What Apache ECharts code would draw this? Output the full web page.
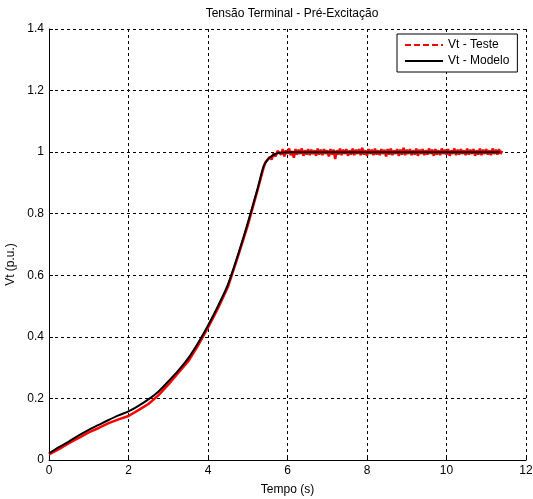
<!DOCTYPE html>
<html>
<head>
<meta charset="utf-8">
<script src="https://cdn.jsdelivr.net/npm/echarts@6/dist/echarts.min.js"></script>
<style>
  html, body { margin: 0; padding: 0; background: #fff; }
  #chart { width: 533px; height: 499px; }
</style>
</head>
<body>
<div id="chart"></div>
<script>
// Terminal voltage during pre-excitation: measured test vs. model response

const titleText = 'Tensão Terminal - Pré-Excitação';
const xName = 'Tempo (s)';
const yName = 'Vt (p.u.)';
const seriesNames = ['Vt - Teste', 'Vt - Modelo'];

const xTicks = [0, 2, 4, 6, 8, 10, 12];
const yTicks = [0, 0.2, 0.4, 0.6, 0.8, 1, 1.2, 1.4];

// Model response (s, p.u.)
const modelTime = [0, 0.25, 0.5, 0.75, 1, 1.25, 1.5, 1.75, 2, 2.25, 2.5, 2.75, 3, 3.25, 3.5, 3.75,
  4, 4.25, 4.5, 4.75, 5, 5.25, 5.4, 5.5, 5.6, 5.7, 5.8, 6, 6.5, 7, 8, 9, 10, 11, 11.35];
const modelVolt = [0.022, 0.042, 0.060, 0.080, 0.098, 0.114, 0.130, 0.145, 0.158, 0.176, 0.197, 0.222,
  0.255, 0.290, 0.330, 0.380, 0.437, 0.500, 0.570, 0.665, 0.770, 0.883, 0.955, 0.975, 0.987, 0.994,
  0.998, 1.000, 1.000, 1.000, 1.000, 1.000, 1.000, 1.000, 1.000];

// Measured response, rising part (s, p.u.)
const testRiseTime = [0, 0.25, 0.5, 0.75, 1, 1.25, 1.5, 1.75, 2, 2.25, 2.5, 2.75, 3, 3.25, 3.5, 3.75,
  4, 4.25, 4.5, 4.75, 5, 5.25, 5.4, 5.45, 5.5, 5.55, 5.6, 5.65, 5.7, 5.75];
const testRiseVolt = [0.018, 0.035, 0.055, 0.072, 0.090, 0.104, 0.120, 0.132, 0.143, 0.162, 0.182, 0.210,
  0.245, 0.283, 0.320, 0.372, 0.430, 0.492, 0.562, 0.660, 0.762, 0.878, 0.950, 0.968, 0.962, 0.984,
  0.976, 0.996, 0.986, 1.004];

// Measured response, steady part: samples every 0.04 s starting at 5.8 s
const testFlatStart = 5.8;
const testFlatStep = 0.04;
const testFlatVolt = [
  1.008, 0.992, 1.010, 0.986, 1.006, 0.994, 1.012, 0.990, 1.004, 0.982,
  1.010, 0.992, 1.008, 0.994, 1.012, 0.988, 1.006, 0.992, 1.010, 0.990,
  1.008, 0.994, 1.006, 0.988, 1.012, 0.992, 1.008, 0.990, 1.010, 0.994,
  1.006, 0.986, 1.010, 0.992, 1.008, 0.978, 1.006, 0.992, 1.012, 0.990,
  1.008, 0.994, 1.010, 0.988, 1.006, 0.992, 1.012, 0.990, 1.008, 0.994,
  1.010, 0.990, 1.014, 0.992, 1.006, 0.988, 1.010, 0.994, 1.008, 0.990,
  1.012, 0.992, 1.006, 0.990, 1.010, 0.994, 1.008, 0.986, 1.010, 0.992,
  1.012, 0.990, 1.006, 0.994, 1.010, 0.988, 1.008, 0.992, 1.014, 0.990,
  1.008, 0.994, 1.010, 0.990, 1.006, 0.992, 1.012, 0.988, 1.008, 0.994,
  1.010, 0.990, 1.006, 0.992, 1.012, 0.994, 1.008, 0.988, 1.010, 0.992,
  1.006, 0.990, 1.012, 0.994, 1.008, 0.992, 1.010, 0.988, 1.006, 0.994,
  1.012, 0.990, 1.008, 0.992, 1.010, 0.994, 1.006, 0.990, 1.012, 0.992,
  1.008, 0.994, 1.010, 0.988, 1.006, 0.992, 1.012, 0.990, 1.008, 0.994,
  1.010, 0.992, 1.006, 0.990, 1.012, 0.994, 1.008, 0.992, 1.010, 0.994,
  1.004
];

const modelData = modelTime.map((t, i) => [t, modelVolt[i]]);
const testData = testRiseTime.map((t, i) => [t, testRiseVolt[i]])
  .concat(testFlatVolt.map((v, i) => [+(testFlatStart + i * testFlatStep).toFixed(3), v]));

const FONT = 'Liberation Sans, Arial, sans-serif';
const gridLine = { show: true, lineStyle: { color: '#000', width: 1, type: [3, 3] } };
const hiddenSymbol = { color: 'rgba(0,0,0,0)', borderWidth: 0, opacity: 0 };

const chart = echarts.init(document.getElementById('chart'), null, { renderer: 'canvas' });
chart.setOption({
  backgroundColor: '#fff',
  animation: false,
  title: {
    text: titleText,
    left: 287, top: 3, textAlign: 'center',
    textStyle: { fontFamily: FONT, fontSize: 12, fontWeight: 'normal', color: '#000' }
  },
  grid: { left: 49, right: 7, top: 29, bottom: 39, containLabel: false, outerBoundsMode: 'none' },
  legend: {
    orient: 'vertical',
    left: 397, top: 34,
    padding: [5, 8, 5, 7],
    itemGap: 4,
    itemWidth: 38, itemHeight: 14,
    backgroundColor: '#fff',
    borderColor: '#000', borderWidth: 1, borderRadius: 0,
    textStyle: { fontFamily: FONT, fontSize: 12, color: '#000' },
    data: [
      { name: seriesNames[0], itemStyle: hiddenSymbol, lineStyle: { type: [6, 3], width: 2, color: '#f00' } },
      { name: seriesNames[1], itemStyle: hiddenSymbol, lineStyle: { type: 'solid', width: 2, color: '#000' } }
    ]
  },
  xAxis: {
    type: 'value', min: xTicks[0], max: xTicks[xTicks.length - 1], interval: 2,
    name: xName, nameLocation: 'middle', nameGap: 24,
    nameTextStyle: { fontFamily: FONT, fontSize: 12, color: '#000' },
    axisLine: { show: true, onZero: false, lineStyle: { color: '#000', width: 1 } },
    axisTick: { show: true, inside: true, length: 4, lineStyle: { color: '#000' } },
    axisLabel: { fontFamily: FONT, fontSize: 12, color: '#000', margin: 5 },
    splitLine: gridLine
  },
  yAxis: {
    type: 'value', min: yTicks[0], max: yTicks[yTicks.length - 1], interval: 0.2,
    name: yName, nameLocation: 'middle', nameGap: 31,
    nameTextStyle: { fontFamily: FONT, fontSize: 12, color: '#000', padding: [0, 40, 0, 0] },
    axisLine: { show: true, onZero: false, lineStyle: { color: '#000', width: 1 } },
    axisTick: { show: true, inside: true, length: 4, lineStyle: { color: '#000' } },
    axisLabel: { fontFamily: FONT, fontSize: 12, color: '#000', margin: 5,
      formatter: v => String(+v.toFixed(1)) },
    splitLine: gridLine
  },
  series: [
    {
      name: seriesNames[0], type: 'line', data: testData,
      showSymbol: false, symbol: 'none',
      lineStyle: { color: '#f00', width: 2.5 },
      itemStyle: { color: '#f00' },
      z: 2
    },
    {
      name: seriesNames[1], type: 'line', data: modelData,
      showSymbol: false, symbol: 'none', smooth: 0.3,
      lineStyle: { color: '#000', width: 2 },
      itemStyle: { color: '#000' },
      z: 3
    }
  ]
});
</script>
</body>
</html>
